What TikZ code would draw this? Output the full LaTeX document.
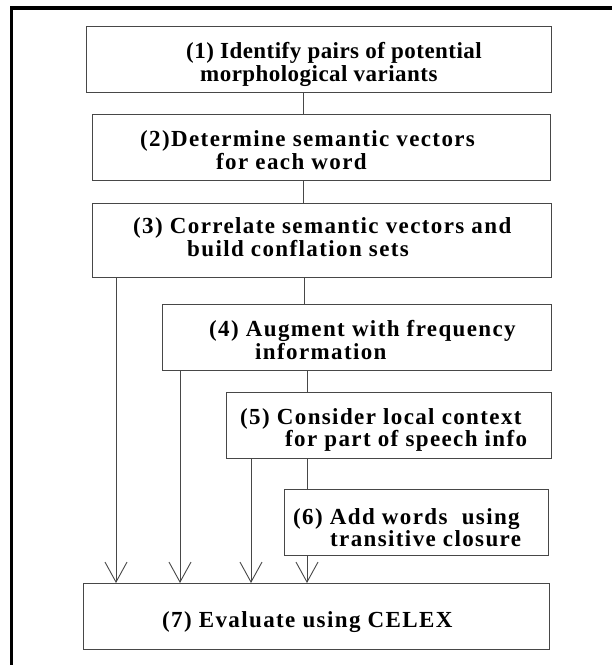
\documentclass[tikz,border=0pt]{standalone}
\usepackage{fontspec}
\setmainfont{Liberation Serif}
\newfontfamily\boxfont[LetterSpace=6]{Liberation Serif}
\newfontfamily\topfont[LetterSpace=2]{Liberation Serif}
\usetikzlibrary{arrows.meta}
\begin{document}
\begin{tikzpicture}[x=1pt,y=-1pt,
  stepbox/.style={draw=black!72, line width=1.1pt, inner sep=0pt, anchor=north west},
  steptext/.style={anchor=base west, inner sep=0pt, font=\boxfont\bfseries\fontsize{23}{25}\selectfont},
  toptext/.style={steptext, font=\topfont\bfseries\fontsize{23}{25}\selectfont},
  link/.style={draw=black!72, line width=0.9pt},
  flow/.style={link, -{Straight Barb[length=20pt,width=22pt,line width=0.9pt]}}
]
\useasboundingbox (0,0) rectangle (612,665);
\draw[line width=3.5pt] (11.5,670) -- (11.5,8) -- (620,8);

\node[stepbox, minimum width=465pt, minimum height=66pt] (b1) at (86,26) {};
\node[stepbox, minimum width=458pt, minimum height=66pt] (b2) at (92,114) {};
\node[stepbox, minimum width=459pt, minimum height=74pt] (b3) at (92,203) {};
\node[stepbox, minimum width=389pt, minimum height=66pt] (b4) at (162,304) {};
\node[stepbox, minimum width=325pt, minimum height=66pt] (b5) at (226,392) {};
\node[stepbox, minimum width=264pt, minimum height=66pt] (b6) at (284,489) {};
\node[stepbox, minimum width=466pt, minimum height=66pt] (b7) at (83,583) {};

\node[toptext] (t1a) at (186,58) {(1) Identify pairs of potential};
\node[toptext] (t1b) at (200,81) {morphological variants};
\node[steptext] (t2a) at (140,146) {(2)Determine semantic vectors};
\node[steptext] (t2b) at (216,169) {for each word};
\node[steptext] (t3a) at (133,233) {(3) Correlate semantic vectors and};
\node[steptext] (t3b) at (187,256) {build conflation sets};
\node[steptext] (t4a) at (209,336) {(4) Augment with frequency};
\node[steptext] (t4b) at (255,359) {information};
\node[steptext] (t5a) at (240,424) {(5) Consider local context};
\node[steptext] (t5b) at (285,446) {for part of speech info};
\node[steptext] (t6a) at (293,524) {(6) Add words\ \ using};
\node[steptext] (t6b) at (330,546) {transitive closure};
\node[steptext] (t7) at (162,627) {(7) Evaluate using CELEX};

\coordinate (cA) at (303,0);
\coordinate (cB) at (304,0);
\coordinate (cC) at (307,0);
\coordinate (xA) at (116,0);
\coordinate (xB) at (180,0);
\coordinate (xC) at (251,0);

\draw[link] (b1.south -| cA) -- (b2.north -| cA);
\draw[link] (b2.south -| cA) -- (b3.north -| cA);
\draw[link] (b3.south -| cB) -- (b4.north -| cB);
\draw[link] (b4.south -| cC) -- (b5.north -| cC);
\draw[link] (b5.south -| cC) -- (b6.north -| cC);
\draw[flow] (b6.south -| cC) -- (b7.north -| cC);
\draw[flow] (b3.south -| xA) -- (b7.north -| xA);
\draw[flow] (b4.south -| xB) -- (b7.north -| xB);
\draw[flow] (b5.south -| xC) -- (b7.north -| xC);
\end{tikzpicture}
\end{document}
